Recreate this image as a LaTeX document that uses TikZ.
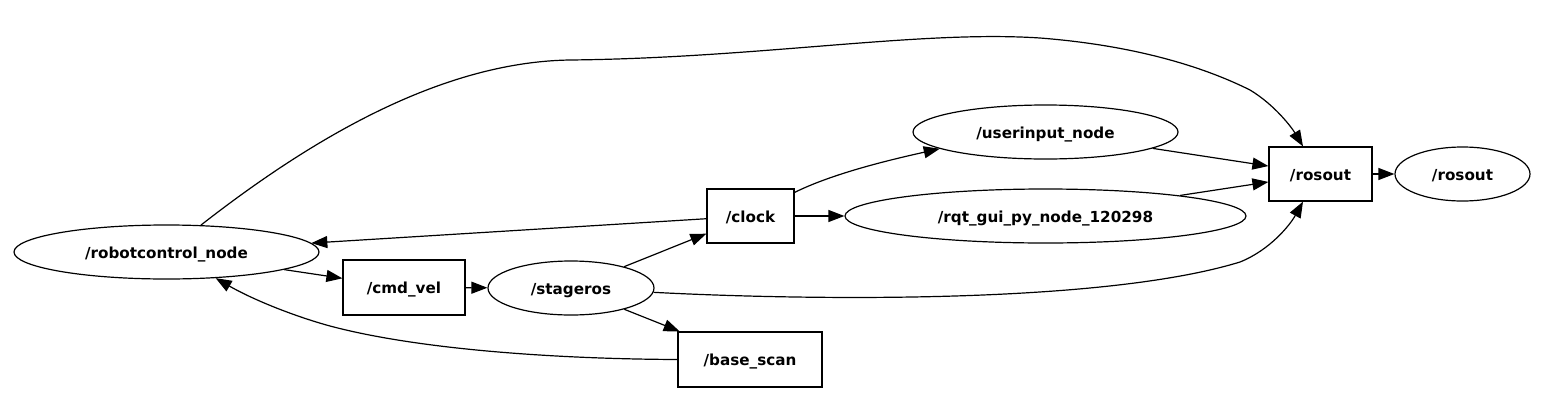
\documentclass[tikz,border=0pt]{standalone}
\usepackage{fontspec}
\setmainfont{DejaVu Sans}
\usetikzlibrary{shapes.geometric,arrows.meta}
\begin{document}
\begin{tikzpicture}[x=1pt,y=-1pt,
  lbl/.style={draw, line width=1.2pt, inner sep=0pt, text height=12.8pt, text depth=0pt,
    font=\fontsize{15.2}{18}\selectfont\bfseries},
  ell/.style={lbl, ellipse, minimum height=54pt},
  box/.style={lbl, rectangle},
  edge/.style={line width=1.2pt, -{Triangle[length=16pt,width=12pt]}}]
\useasboundingbox (0,0) rectangle (1559,405);

\node[ell, minimum width=305pt] (rc) at (166.5,252) {/robotcontrol\_node};
\node[box, minimum width=122pt, minimum height=55pt] (cmd) at (404,287.5) {/cmd\_vel};
\node[ell, minimum width=166pt] (st) at (571,288) {/stageros};
\node[box, minimum width=87pt, minimum height=54pt] (clock) at (750.5,216) {/clock};
\node[box, minimum width=144pt, minimum height=55pt] (base) at (750,359.5) {/base\_scan};
\node[ell, minimum width=265pt] (ui) at (1045.5,132) {/userinput\_node};
\node[ell, minimum width=401pt] (rqt) at (1045.5,216) {/rqt\_gui\_py\_node\_120298};
\node[box, minimum width=103pt, minimum height=54pt] (rbox) at (1320.5,174) {/rosout};
\node[ell, minimum width=135pt] (rell) at (1462.5,174) {/rosout};

% robotcontrol -> rosout (top arc)
\draw[edge] (rc.38) .. controls (310,140) and (440,62) .. (570,60)
  .. controls (760,58) and (920,30) .. (1040,38)
  .. controls (1130,45) and (1200,65) .. (1250,90)
  .. controls (1275,105) and (1292,128) .. ([xshift=-17.5pt]rbox.north);
\draw[edge] (clock) -- (rc);
\draw[edge] (rc) -- (cmd);
\draw[edge] (cmd) -- (st);
\draw[edge] (st) -- (clock);
\draw[edge] (st) -- (base);
% base_scan -> robotcontrol
\draw[edge] (base.west) .. controls (560,359) and (420,350) .. (330,326)
  .. controls (290,315) and (250,298) .. (rc.-28);
% stageros -> rosout (bottom arc)
\draw[edge] (st.-3) .. controls (800,300) and (1100,305) .. (1240,262)
  .. controls (1270,250) and (1290,225) .. ([xshift=-17.5pt]rbox.south);
\draw[edge] ([yshift=-4pt]clock.north east) .. controls (830,175) and (880,162) .. (ui.-171);
\draw[edge] (clock) -- (rqt);
\draw[edge] (ui) -- (rbox);
\draw[edge] (rqt) -- (rbox);
\draw[edge] (rbox) -- (rell);
\end{tikzpicture}
\end{document}
